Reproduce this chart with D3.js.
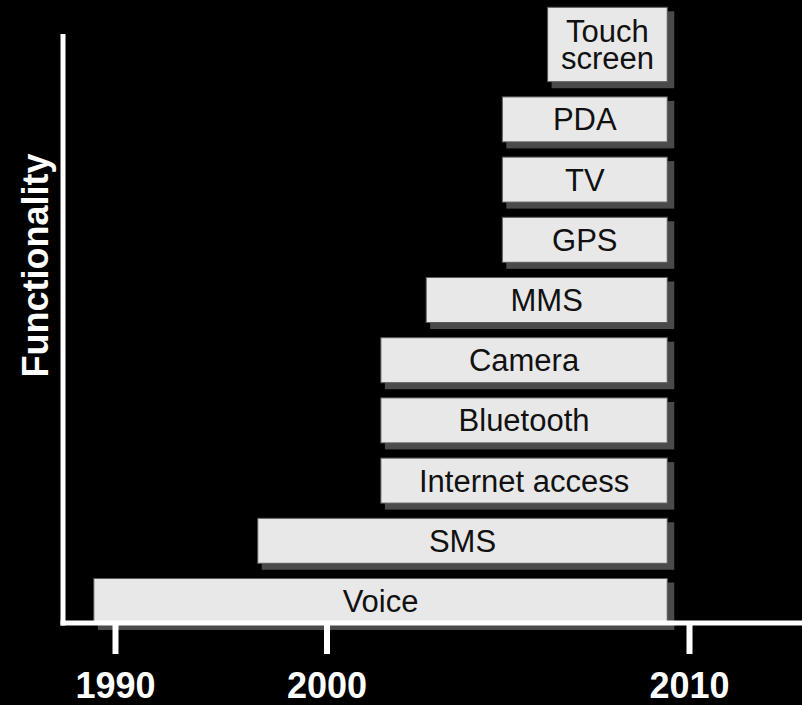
<!DOCTYPE html>
<html>
<head>
<meta charset="utf-8">
<script src="https://cdn.jsdelivr.net/npm/d3@7"></script>
<style>
  html, body { margin: 0; padding: 0; background: #000; }
  svg { display: block; }
</style>
</head>
<body>
<svg id="chart" width="802" height="705"></svg>
<script>
"use strict"

// features, bottom to top
var categories = ["Voice", "SMS", "Internet access", "Bluetooth", "Camera", "MMS", "GPS", "TV", "PDA", "Touch screen"];
var labels = ["Voice", "SMS", "Internet access", "Bluetooth", "Camera", "MMS", "GPS", "TV", "PDA", "Touch\nscreen"];
var startYears = [1989, 1996.75, 2001.5, 2001.5, 2001.5, 2002.75, 2004.85, 2004.85, 2004.85, 2006.1];
var endYears = [2009.4, 2009.4, 2009.4, 2009.4, 2009.4, 2009.4, 2009.4, 2009.4, 2009.4, 2009.4];
var tickYears = [1990, 2000, 2010];
var tickLabels = ["1990", "2000", "2010"];

var FONT = "'Liberation Sans', Arial, Helvetica, sans-serif";
var LABEL_SIZE = 31;
var LINE_STEP = 26.7;
var EXTRA_LINE = 29.4;
var CAP = 0.716 * LABEL_SIZE;

var svg = d3.select("#chart");

svg.append("rect")
    .attr("width", 802)
    .attr("height", 705)
    .attr("fill", "#000");

// the time axis of the original is not uniform, so it is piecewise
var x = d3.scaleLinear()
    .domain([1990, 2000, 2010])
    .range([115, 326.5, 689]);

var y = d3.scaleBand()
    .domain(categories)
    .range([623.5, 36.7])
    .paddingInner(0.2525)
    .paddingOuter(0);

var rows = categories.map(function(c, i) {
    var lines = labels[i].split("\n");
    var extra = (lines.length - 1) * EXTRA_LINE;
    return {
        "name": c,
        "lines": lines,
        "x0": x(startYears[i]),
        "x1": x(endYears[i]),
        "top": y(c) - extra,
        "h": y.bandwidth() + extra
    };
});

var bars = svg.append("g").attr("class", "bars");

var row = bars.selectAll("g.row")
    .data(rows)
    .enter().append("g")
    .attr("class", "row");

// drop shadow
row.append("rect")
    .attr("x", function(d) { return d.x0 + 4; })
    .attr("y", function(d) { return d.top + 4; })
    .attr("width", function(d) { return d.x1 - d.x0 + 3; })
    .attr("height", function(d) { return d.h + 2.5; })
    .attr("fill", "#4a4a4a");

row.append("rect")
    .attr("x", function(d) { return d.x0; })
    .attr("y", function(d) { return d.top; })
    .attr("width", function(d) { return d.x1 - d.x0; })
    .attr("height", function(d) { return d.h; })
    .attr("fill", "#e8e8e8")
    .attr("stroke", "#5a5a5a")
    .attr("stroke-width", 1);

row.each(function(d) {

    var g = d3.select(this);
    var mid = d.top + d.h / 2;
    var block = CAP + (d.lines.length - 1) * LINE_STEP;
    var first = mid - block / 2 + CAP;

    var t = g.append("text")
        .attr("text-anchor", "middle")
        .attr("font-family", FONT)
        .attr("font-size", LABEL_SIZE)
        .attr("fill", "#111");

    d.lines.forEach(function(line, k) {
        t.append("tspan")
            .attr("x", (d.x0 + d.x1) / 2)
            .attr("y", first + k * LINE_STEP)
            .text(line);
    });

});

// axes
var AXIS_Y = 623;

var xAxis = d3.axisBottom(x)
    .tickValues(tickYears)
    .tickFormat(function(v, i) { return tickLabels[i]; })
    .tickSizeInner(31)
    .tickSizeOuter(0)
    .tickPadding(18.5);

var gx = svg.append("g")
    .attr("transform", "translate(0," + AXIS_Y + ")")
    .call(xAxis);

gx.select(".domain").remove();
gx.selectAll(".tick line")
    .attr("stroke", "#fff")
    .attr("stroke-width", 6);
gx.selectAll(".tick text")
    .attr("fill", "#fff")
    .attr("font-family", FONT)
    .attr("font-weight", "bold")
    .attr("font-size", 36);

svg.append("line")
    .attr("x1", 60.5).attr("x2", 802)
    .attr("y1", AXIS_Y).attr("y2", AXIS_Y)
    .attr("stroke", "#fff")
    .attr("stroke-width", 5);

svg.append("line")
    .attr("x1", 63).attr("x2", 63)
    .attr("y1", 34).attr("y2", AXIS_Y + 2.5)
    .attr("stroke", "#fff")
    .attr("stroke-width", 5);

svg.append("text")
    .attr("transform", "translate(48,265.5) rotate(-90)")
    .attr("text-anchor", "middle")
    .attr("font-family", FONT)
    .attr("font-weight", "bold")
    .attr("font-size", 36)
    .attr("fill", "#fff")
    .text("Functionality");

</script>
</body>
</html>
